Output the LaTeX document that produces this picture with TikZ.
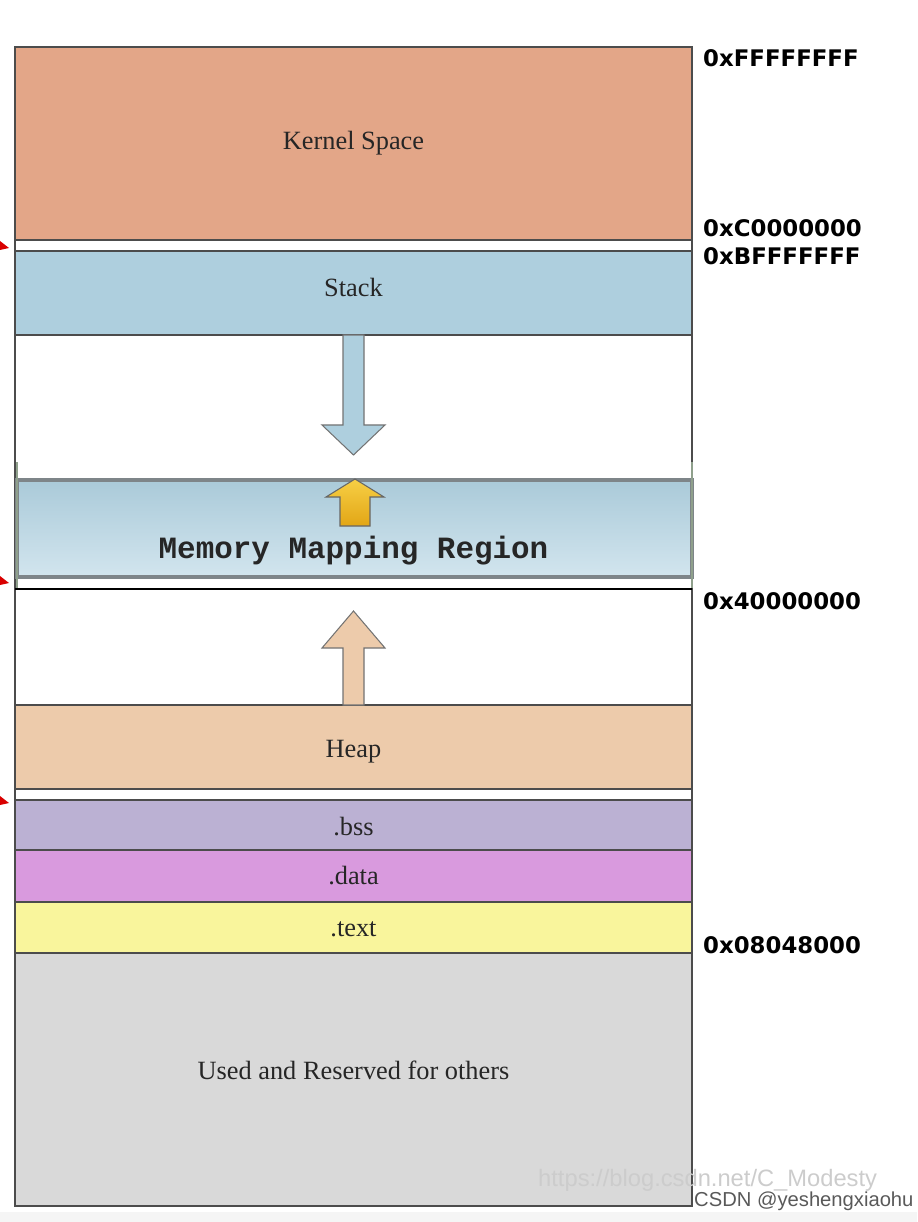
\documentclass[tikz,border=0pt]{standalone}
\usepackage{fontspec}
\setmainfont{Liberation Serif}
\newfontfamily\addrfont{DejaVu Sans}
\newfontfamily\mmrfont{Liberation Mono}
\newfontfamily\wmfont{Liberation Sans}

\definecolor{kerncol}{HTML}{E3A688}
\definecolor{stackcol}{HTML}{AECFDE}
\definecolor{heapcol}{HTML}{EDCBAB}
\definecolor{bsscol}{HTML}{BBB1D3}
\definecolor{datacol}{HTML}{D99ADE}
\definecolor{textcol}{HTML}{F9F59C}
\definecolor{usedcol}{HTML}{D9D9D9}
\definecolor{mmrtop}{HTML}{AACAD9}
\definecolor{mmrbot}{HTML}{D2E5EE}
\definecolor{framecol}{HTML}{7E8589}
\definecolor{edgecol}{HTML}{8FA08C}
\definecolor{goldtop}{HTML}{F7CF45}
\definecolor{goldbot}{HTML}{E2A616}

\tikzset{
  blk/.style={draw=black!70, line width=0.6pt},
  seglbl/.style={font=\fontsize{15}{17}\selectfont, text=black!85},
  addr/.style={anchor=west, font=\addrfont\bfseries\fontsize{13}{15}\selectfont},
  fatarrow/.style={draw=black!55, line width=0.6pt, line join=miter}
}

\begin{document}
\begin{tikzpicture}[x=0.02cm,y=-0.02cm]
\useasboundingbox (0,0) rectangle (917,1222);
\fill[black!4] (0,1212) rectangle (917,1222);

% 各个段
\foreach \nm/\ya/\yb/\yl/\col/\txt in {kernel/47/240/143/kerncol/Kernel Space,
    stack/251/335/287/stackcol/Stack, heap/705/789/752/heapcol/Heap,
    bss/800/850/827/bsscol/.bss, data/850/902/876/datacol/.data,
    text/902/953/929/textcol/.text, used/953/1206/1070/usedcol/Used and Reserved for others} {
  \draw[blk, fill=\col] (15,\ya) rectangle (692,\yb);
  \node[seglbl] (\nm) at (353.5,\yl) {\txt};
}

% 外框
\draw[blk] (15,47) rectangle (692,1206);

% 内存映射区
\shade[top color=mmrtop, bottom color=mmrbot] (17,480) rectangle (692,577);
\draw[framecol, line width=1.8pt] (17,480) rectangle (692,577);
\draw[edgecol, line width=0.8pt] (17,462) -- (17,588);
\draw[edgecol, line width=0.8pt] (692,462) -- (692,588);
\draw[black, line width=1pt] (15,589) -- (692,589);
\node[font=\mmrfont\bfseries\fontsize{17.6}{20}\selectfont, text=black!85] (mmr) at (353.5,551) {Memory Mapping Region};

% 箭头
\draw[fatarrow, fill=stackcol] (343,335) -- (343,425) -- (322,425) -- (353.5,455)
  -- (385,425) -- (364,425) -- (364,335) -- cycle;
\draw[fatarrow, fill=heapcol] (343,705) -- (343,648) -- (322,648) -- (353.5,611)
  -- (385,648) -- (364,648) -- (364,705) -- cycle;
\shade[top color=goldtop, bottom color=goldbot, draw=black!60, line width=0.6pt]
  (340,526) -- (340,497) -- (326,497) -- (355,479) -- (384,497) -- (370,497) -- (370,526) -- cycle;

% 左边红色标记
\foreach \yy in {241,576,796} {
  \fill[red!85!black] (0,\yy) -- (9,\yy+7) -- (0,\yy+9) -- cycle;
}

% 地址
\node[addr] (aFFFF) at (697,58) {0xFFFFFFFF};
\node[addr] (aC000) at (697,228) {0xC0000000};
\node[addr] (aBFFF) at (697,256) {0xBFFFFFFF};
\node[addr] (a4000) at (697,601) {0x40000000};
\node[addr] (a0804) at (697,945) {0x08048000};

% 水印
\node[anchor=west, font=\wmfont\fontsize{13.5}{15}\selectfont, text=black!20] (wm) at (532,1180) {https://blog.csdn.net/C\_Modesty};
\node[anchor=west, font=\wmfont\fontsize{11.5}{13}\selectfont, text=black!65] (csdn) at (688,1201) {CSDN @yeshengxiaohu};
\end{tikzpicture}
\end{document}
